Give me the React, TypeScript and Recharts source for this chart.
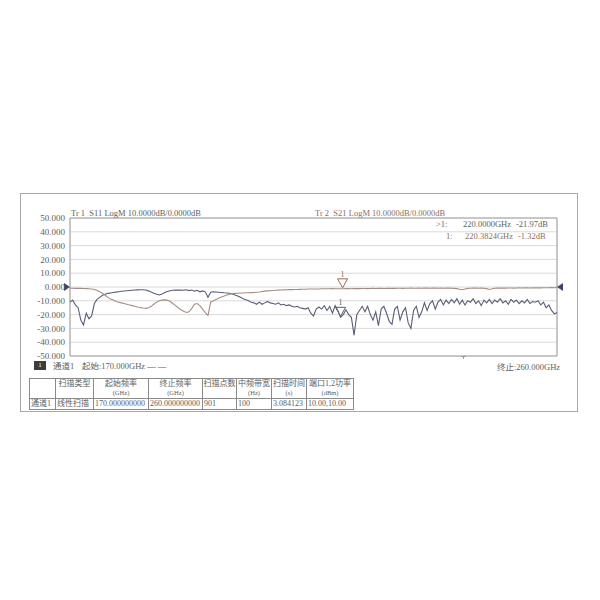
import { LineChart, Line, XAxis, YAxis, CartesianGrid, ReferenceArea, ReferenceDot } from "recharts"

const freqGHz = [
  170, 170.5, 171, 171.5, 172, 172.5, 173, 173.5, 174, 174.5,
  175, 175.5, 176, 176.5, 177, 177.5, 178, 178.5, 179, 179.5,
  180, 180.5, 181, 181.5, 182, 182.5, 183, 183.5, 184, 184.5,
  185, 185.5, 186, 186.5, 187, 187.5, 188, 188.5, 189, 189.5,
  190, 190.5, 191, 191.5, 192, 192.5, 193, 193.5, 194, 194.5,
  195, 195.5, 196, 196.5, 197, 197.5, 198, 198.5, 199, 199.5,
  200, 200.5, 201, 201.5, 202, 202.5, 203, 203.5, 204, 204.5,
  205, 205.5, 206, 206.5, 207, 207.5, 208, 208.5, 209, 209.5,
  210, 210.5, 211, 211.5, 212, 212.5, 213, 213.5, 214, 214.5,
  215, 215.5, 216, 216.5, 217, 217.5, 218, 218.5, 219, 219.5,
  220, 220.5, 221, 221.5, 222, 222.5, 223, 223.5, 224, 224.5,
  225, 225.5, 226, 226.5, 227, 227.5, 228, 228.5, 229, 229.5,
  230, 230.5, 231, 231.5, 232, 232.5, 233, 233.5, 234, 234.5,
  235, 235.5, 236, 236.5, 237, 237.5, 238, 238.5, 239, 239.5,
  240, 240.5, 241, 241.5, 242, 242.5, 243, 243.5, 244, 244.5,
  245, 245.5, 246, 246.5, 247, 247.5, 248, 248.5, 249, 249.5,
  250, 250.5, 251, 251.5, 252, 252.5, 253, 253.5, 254, 254.5,
  255, 255.5, 256, 256.5, 257, 257.5, 258, 258.5, 259, 259.5,
  260,
]

// S11 (Tr 1), dB
const s11 = [
  -11.0, -9.5, -13.0, -15.0, -24.0, -27.5, -19.0, -23.0, -21.0, -12.0,
  -9.0, -7.5, -6.0, -5.2, -4.6, -4.3, -4.0, -3.7, -3.4, -3.1,
  -2.9, -2.7, -2.5, -2.3, -2.2, -2.1, -2.0, -2.0, -2.2, -2.8,
  -3.6, -4.5, -5.3, -5.8, -5.0, -4.0, -3.2, -2.7, -2.4, -2.2,
  -2.3, -2.2, -2.4, -2.0, -2.6, -2.2, -3.0, -2.4, -3.5, -2.8,
  -3.5, -7.5, -3.8, -3.5, -3.6, -3.8, -4.0, -4.2, -4.3, -4.5,
  -5.0, -5.8, -6.5, -7.5, -8.5, -9.3, -10.0, -11.0, -11.5, -12.5,
  -11.0, -12.5, -11.5, -10.5, -11.5, -12.0, -12.5, -11.5, -13.0, -12.5,
  -13.5, -13.0, -14.0, -14.5, -14.0, -15.0, -15.5, -16.0, -15.0, -19.0,
  -21.0, -16.0, -14.5, -16.0, -13.5, -17.0, -14.0, -19.0, -13.5, -17.0,
  -22.0, -20.0, -16.5, -20.0, -22.0, -35.0, -20.0, -17.0, -14.0, -18.0,
  -14.0, -20.0, -24.0, -18.0, -28.0, -16.0, -14.0, -19.0, -25.0, -27.0,
  -16.0, -14.0, -24.0, -18.0, -15.0, -26.0, -30.0, -17.0, -14.0, -22.0,
  -18.0, -11.5, -17.0, -12.0, -10.0, -16.0, -11.0, -9.0, -13.0, -9.5,
  -12.0, -9.0, -11.5, -8.5, -12.5, -9.5, -13.0, -10.0, -11.0, -8.5,
  -12.0, -10.0, -13.5, -9.5, -11.5, -9.0, -12.0, -9.5, -11.0, -8.5,
  -11.5, -10.0, -12.5, -9.0, -11.0, -9.5, -12.0, -10.0, -11.5, -9.0,
  -12.0, -10.5, -11.0, -10.0, -13.0, -11.0, -15.0, -13.0, -17.0, -19.5,
  -18.5,
]

// S21 (Tr 2), dB
const s21 = [
  -0.8, -0.9, -1.0, -0.9, -1.0, -1.1, -1.2, -1.3, -1.5, -1.8,
  -2.5, -3.5, -4.5, -6.0, -7.5, -8.7, -9.5, -10.5, -11.0, -11.5,
  -12.0, -12.5, -13.0, -13.5, -14.0, -14.5, -14.8, -15.2, -15.5, -15.0,
  -14.0, -12.5, -11.0, -10.0, -9.5, -9.3, -9.5, -10.5, -12.0, -13.5,
  -15.0, -16.5, -17.5, -18.5, -18.0, -15.5, -12.5, -12.0, -13.5, -16.0,
  -18.5, -20.5, -11.0, -10.0, -9.0, -8.0, -7.2, -6.5, -5.8, -5.2,
  -4.8, -4.6, -4.5, -4.4, -4.3, -4.2, -4.2, -4.1, -4.0, -3.8,
  -3.6, -3.3, -3.0, -2.8, -2.7, -2.5, -2.4, -2.3, -2.2, -2.1,
  -2.0, -1.9, -1.9, -1.8, -1.8, -1.7, -1.6, -1.6, -1.5, -1.5,
  -1.4, -1.4, -1.4, -1.3, -1.3, -1.3, -1.3, -1.2, -1.3, -1.3,
  -1.3, -1.3, -1.2, -1.2, -1.3, -1.2, -1.1, -1.2, -1.1, -1.1,
  -1.2, -1.1, -1.0, -1.1, -1.0, -1.0, -1.1, -1.0, -1.0, -0.9,
  -1.0, -0.9, -0.9, -1.0, -0.9, -0.9, -0.8, -0.9, -0.9, -0.8,
  -0.9, -0.8, -0.8, -0.9, -0.8, -0.8, -0.9, -0.8, -0.9, -0.8,
  -0.8, -0.9, -1.0, -1.2, -1.6, -2.0, -1.4, -1.0, -0.9, -0.8,
  -0.8, -0.9, -0.8, -0.9, -1.2, -1.8, -1.3, -0.9, -0.8, -0.8,
  -0.7, -0.8, -0.7, -0.7, -0.8, -0.7, -0.6, -0.7, -0.6, -0.6,
  -0.7, -0.6, -0.6, -0.5, -0.6, -0.5, -0.5, -0.5, -0.4, -0.5,
  -0.4,
]

const yTicks = [50, 40, 30, 20, 10, 0, -10, -20, -30, -40, -50]
const xTicks = [170, 179, 188, 197, 206, 215, 224, 233, 242, 251, 260]

const tableHead = ["", "扫描类型", "起始频率|(GHz)", "终止频率|(GHz)", "扫描点数", "中频带宽|(Hz)", "扫描时间|(s)", "端口1,2功率|(dBm)"]
const tableRow = ["通道1", "线性扫描", "170.000000000", "260.000000000", "901", "100", "3.084123", "10.00,10.00"]
const colWidths = [26, 38, 55, 54, 34, 35, 35, 47]

const data = freqGHz.map((f, i) => ({ f, s11: s11[i], s21: s21[i] }))

const FONT = "'Liberation Serif', 'Noto Sans CJK SC', serif"
const S11_COLOR = "#5a5e76"
const S21_COLOR = "#a48e84"
const TEXT = "#5e5e5e"
const BROWN_TEXT = "#8e6e5c"

const markerShape = (color: string) => (p: any) => {
  const { cx, cy } = p
  return (
    <g>
      <path d={`M${cx - 5},${cy - 10} L${cx + 5},${cy - 10} L${cx},${cy - 1} Z`} fill="none" stroke={color} strokeWidth={1} />
      <text x={cx} y={cy - 12} textAnchor="middle" fontSize={8} fill={color} fontFamily={FONT}>1</text>
    </g>
  )
}

const refArrow = (dir: "right" | "left") => (p: any) => {
  const { cx, cy } = p
  const d = dir === "right"
    ? `M${cx - 6},${cy - 4} L${cx},${cy} L${cx - 6},${cy + 4} Z`
    : `M${cx + 6},${cy - 4} L${cx},${cy} L${cx + 6},${cy + 4} Z`
  return <path d={d} fill="#3f4468" />
}

const abs = (left: number, top: number, extra: any = {}) => ({
  position: "absolute" as const,
  left,
  top,
  fontFamily: FONT,
  fontSize: 8.5,
  color: TEXT,
  whiteSpace: "nowrap" as const,
  lineHeight: "10px",
  ...extra,
})

export default function App() {
  return (
    <div style={{ position: "absolute", left: 0, top: 0, width: 600, height: 600, background: "#fff", overflow: "hidden" }}>
      <div style={{ position: "absolute", left: 20, top: 193, width: 556, height: 217, border: "1px solid #a8a8a8" }} />

      <LineChart
        width={600}
        height={600}
        data={data}
        margin={{ top: 218, right: 43, bottom: 244, left: 20 }}
        style={{ position: "absolute", left: 0, top: 0 }}
      >
        <CartesianGrid stroke="#dadada" strokeWidth={1} />
        <XAxis
          dataKey="f"
          type="number"
          domain={[170, 260]}
          ticks={xTicks}
          height={0}
          tick={false}
          axisLine={false}
          tickLine={false}
        />
        <YAxis
          type="number"
          domain={[-50, 50]}
          ticks={yTicks}
          width={50}
          axisLine={false}
          tickLine={false}
          tickSize={0}
          tickMargin={5}
          interval={0}
          tick={{ fill: TEXT, fontSize: 9, fontFamily: FONT }}
          tickFormatter={(v: number) => v.toFixed(3)}
        />
        <ReferenceArea x1={170} x2={260} y1={-50} y2={50} fill="none" stroke="#a0a0a0" strokeWidth={1} />
        <Line type="linear" dataKey="s11" stroke={S11_COLOR} strokeWidth={1.1} dot={false} isAnimationActive={false} />
        <Line type="linear" dataKey="s21" stroke={S21_COLOR} strokeWidth={1.1} dot={false} isAnimationActive={false} />
        <ReferenceDot x={220.3824} y={-1.32} r={0} shape={markerShape(BROWN_TEXT)} />
        <ReferenceDot x={220} y={-21.97} r={0} shape={markerShape(S11_COLOR)} />
        <ReferenceDot x={170} y={0} r={0} shape={refArrow("right")} />
        <ReferenceDot x={260} y={0} r={0} shape={refArrow("left")} />
      </LineChart>

      <div style={abs(71, 208)}>Tr 1&nbsp;&nbsp;S11 LogM 10.0000dB/0.0000dB</div>
      <div style={abs(315, 208, { color: BROWN_TEXT })}>Tr 2&nbsp;&nbsp;S21 LogM 10.0000dB/0.0000dB</div>

      <div style={abs(436, 219)}>&gt;1:</div>
      <div style={abs(463, 219)}>220.0000GHz</div>
      <div style={abs(516, 219)}>-21.97dB</div>
      <div style={abs(446, 231, { color: BROWN_TEXT })}>1:</div>
      <div style={abs(465, 231, { color: BROWN_TEXT })}>220.3824GHz</div>
      <div style={abs(518, 231, { color: BROWN_TEXT })}>-1.32dB</div>

      <div style={{ position: "absolute", left: 461, top: 356, width: 5, height: 1, background: "#999" }} />
      <div style={{ position: "absolute", left: 463, top: 356, width: 1, height: 3, background: "#999" }} />

      <div style={{ position: "absolute", left: 34, top: 361, width: 12, height: 9, background: "#3c3c3c", color: "#fff", fontSize: 7, lineHeight: "9px", textAlign: "center", fontFamily: FONT }}>1</div>
      <div style={abs(53, 361)}>通道1</div>
      <div style={abs(82, 361)}>起始:170.000GHz — —</div>
      <div style={abs(497, 362)}>终止:260.000GHz</div>

      <table
        style={{
          position: "absolute",
          left: 29,
          top: 378,
          borderCollapse: "collapse",
          tableLayout: "fixed",
          fontFamily: FONT,
          fontSize: 8,
          color: TEXT,
        }}
      >
        <colgroup>
          {colWidths.map((w, i) => (
            <col key={i} style={{ width: w }} />
          ))}
        </colgroup>
        <tbody>
          <tr style={{ height: 20 }}>
            {tableHead.map((h, i) => {
              const [a, b] = h.split("|")
              return (
                <td key={i} style={{ border: "1px solid #8a8a8a", padding: 0, textAlign: "center", verticalAlign: "top", lineHeight: "9px", whiteSpace: "nowrap", overflow: "hidden" }}>
                  <div>{a}</div>
                  {b ? <div style={{ fontSize: 6.5 }}>{b}</div> : null}
                </td>
              )
            })}
          </tr>
          <tr style={{ height: 11 }}>
            {tableRow.map((c, i) => (
              <td key={i} style={{ border: "1px solid #8a8a8a", padding: "0 1px", lineHeight: "10px", whiteSpace: "nowrap", overflow: "hidden" }}>
                {c}
              </td>
            ))}
          </tr>
        </tbody>
      </table>
    </div>
  )
}
